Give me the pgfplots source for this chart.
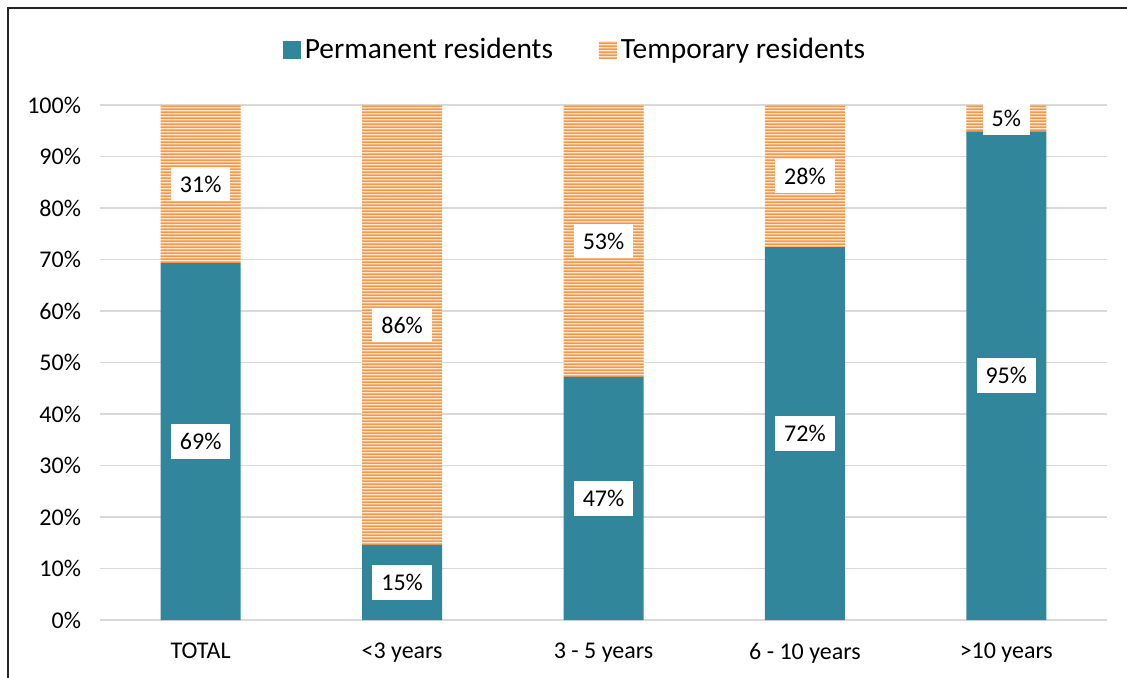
\documentclass[border=0pt]{standalone}
\usepackage{fontspec}
\setmainfont{Carlito}
\usepackage{pgfplots}
\pgfplotsset{compat=1.18}
\usetikzlibrary{patterns.meta}
\definecolor{teal5}{RGB}{49,134,155}
\definecolor{orng}{RGB}{247,150,70}
\definecolor{orngbg}{RGB}{254,232,212}
\definecolor{gridgray}{RGB}{217,217,217}
\tikzdeclarepattern{name=hstripes, type=uncolored, bounding box={(0pt,0pt) and (600pt,1.7pt)}, tile size={(600pt,1.7pt)}, code={\fill (0pt,0pt) rectangle (600pt,0.9pt);}}
\begin{document}
\begin{tikzpicture}
\useasboundingbox (-50pt,-28.5pt) rectangle (513.5pt,310pt);
\begin{axis}[
 at={(0,0)}, anchor=south west,
 scale only axis, width=503.5pt, height=257.5pt,
 ybar stacked, bar width=40pt,
 xmin=-0.5, xmax=4.5, ymin=0, ymax=100, enlarge y limits=false,
 xtick={0,1,2,3,4}, xticklabels={TOTAL,{<3 years},{3 - 5 years},{6 - 10 years},{>10 years}},
 ytick={0,10,...,100}, yticklabel={\pgfmathprintnumber{\tick}\%},
 /pgf/number format/assume math mode=true,
 ymajorgrids, grid style={gridgray, line width=0.75pt},
 axis line style={draw=none}, major tick length=0pt,
 tick label style={font=\fontsize{12}{14}\selectfont, text=black},
 xticklabel style={yshift=-8pt},
 yticklabel style={xshift=-6pt},
 point meta=explicit symbolic,
 nodes near coords={\pgfplotspointmeta\%},
 every node near coord/.append style={anchor=center, fill=white, text=black, font=\fontsize{12}{14}\selectfont, inner xsep=4.5pt, inner ysep=4.5pt},
 legend style={at={(rel axis cs:0.4727,1.1068)}, anchor=center, draw=none, fill=none, legend columns=2, font=\fontsize{14.7}{17}\selectfont, /tikz/every even column/.append style={column sep=21pt}},
 legend image code/.code={\draw[#1,draw=none] (0pt,-4.5pt) rectangle (9pt,4.5pt);},
]
\addplot[fill=teal5, draw=none] coordinates {(0,69.3) [69] (1,14.6) [15] (2,47.2) [47] (3,72.4) [72] (4,94.9) [95]};
\addlegendentry{Permanent residents}
\addplot[fill=orngbg, draw=none, postaction={pattern=hstripes, pattern color=orng}] coordinates {(0,30.7) [31] (1,85.4) [86] (2,52.8) [53] (3,27.6) [28] (4,5.1) [5]};
\addlegendentry{Temporary residents}
\end{axis}
\draw[line width=1pt, black!85] (-46pt,-40pt) -- (-46pt,306pt) -- (530pt,306pt);
\end{tikzpicture}
\end{document}
